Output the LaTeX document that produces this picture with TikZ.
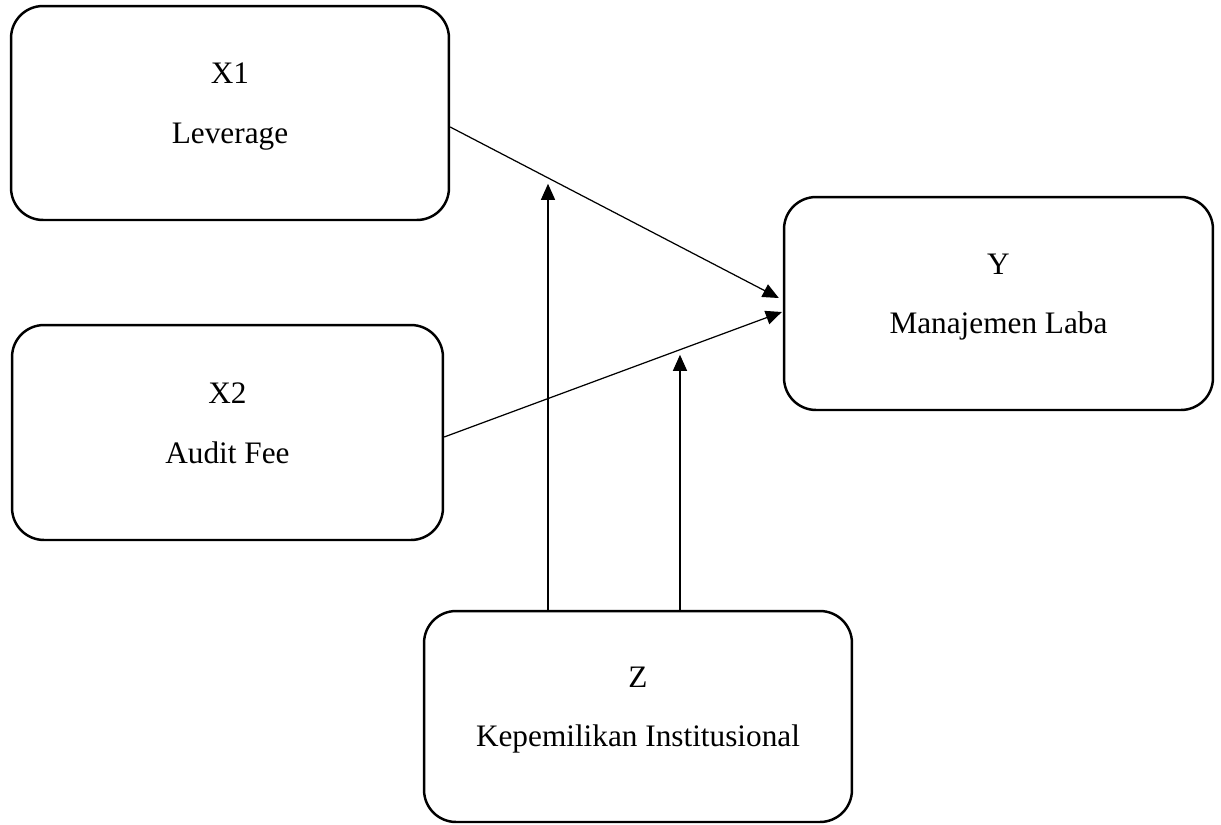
\documentclass[tikz,border=0pt]{standalone}
\usepackage{fontspec}
\setmainfont{Liberation Serif}
\usetikzlibrary{arrows.meta}

\tikzset{
  varbox/.style={draw, line width=1.4pt, rounded corners=0.64cm, align=center,
    inner sep=0pt, font=\fontsize{17.8}{34}\selectfont},
  link/.style={line width=0.7pt, -{Triangle[length=0.32cm,width=0.28cm]}}
}
\newcommand{\lowline}{\rule[-11pt]{0pt}{11pt}}

\begin{document}
\begin{tikzpicture}[x=0.02cm, y=-0.02cm]
  \useasboundingbox (0,0) rectangle (1221,825);

  % variabel
  \node[varbox, minimum width=8.76cm, minimum height=4.28cm] (x1) at (230,113) {X1\\Leverage\lowline};
  \node[varbox, minimum width=8.62cm, minimum height=4.30cm] (x2) at (227.5,432.5) {X2\\Audit Fee\lowline};
  \node[varbox, minimum width=8.58cm, minimum height=4.26cm] (y) at (998.5,303.5) {Y\\Manajemen Laba\lowline};
  \node[varbox, minimum width=8.56cm, minimum height=4.22cm] (z) at (638,716.5) {Z\\Kepemilikan Institusional\lowline};

  % hubungan
  \draw[link] ([yshift=-0.28cm]x1.east) -- ([xshift=-0.08cm,yshift=0.11cm]y.west);
  \draw[link] ([yshift=-0.09cm]x2.east) -- ([xshift=-0.02cm,yshift=-0.17cm]y.west);

  % moderasi
  \draw[link] ([xshift=-1.8cm]z.north) -- ++(0,-426);
  \draw[link] ([xshift=0.84cm]z.north) -- ++(0,-255);
\end{tikzpicture}
\end{document}
